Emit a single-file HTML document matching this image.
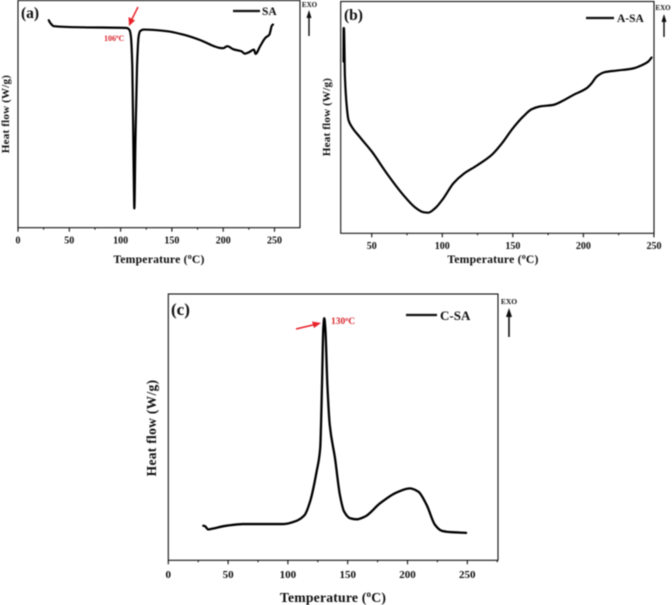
<!DOCTYPE html>
<html>
<head>
<meta charset="utf-8">
<style>
html,body{margin:0;padding:0;background:#fff;}
svg{display:block;}
text{font-family:"Liberation Serif",serif;font-weight:bold;fill:#111;}
</style>
</head>
<body>
<svg id="fig" width="672" height="605" viewBox="0 0 672 605" xmlns="http://www.w3.org/2000/svg">
<defs>
<filter id="soft" x="-5%" y="-5%" width="110%" height="110%"><feGaussianBlur stdDeviation="0.4"/></filter>
</defs>
<rect width="672" height="605" fill="#fff"/>
<g id="root" filter="url(#soft)">

<!-- Panel (a) annotations -->
<text x="21" y="18" font-size="15.5">(a)</text>
<text x="159" y="263" font-size="11.7" text-anchor="middle" letter-spacing="0.2">Temperature (<tspan font-size="8" dy="-4">o</tspan><tspan dy="4">C)</tspan></text>
<text transform="translate(9,114) rotate(-90)" font-size="11" text-anchor="middle" letter-spacing="0.2">Heat flow (W/g)</text>
<line x1="233" y1="11" x2="260" y2="11" stroke="#111" stroke-width="2.2"/>
<text x="262" y="15" font-size="11.5">SA</text>
<text x="309.5" y="7" font-size="7" text-anchor="middle">EXO</text>
<line x1="309" y1="36" x2="309" y2="15" stroke="#111" stroke-width="1.4"/>
<polygon points="309,10 306.5,18 311.5,18" fill="#111"/>
<line x1="138" y1="7" x2="131.5" y2="20" stroke="#e8222c" stroke-width="1.5"/>
<polygon points="129,26 128.5,17 135,20.5" fill="#e8222c"/>
<text x="104" y="41" font-size="8" style="fill:#d9262e">106<tspan font-size="5" dy="-3">o</tspan><tspan dy="3">C</tspan></text>

<!-- Panel (b) annotations -->
<text x="344" y="20" font-size="15.5">(b)</text>
<text x="493" y="263" font-size="11.7" text-anchor="middle" letter-spacing="0.2">Temperature (<tspan font-size="8" dy="-4">o</tspan><tspan dy="4">C)</tspan></text>
<text transform="translate(330,117) rotate(-90)" font-size="11" text-anchor="middle" letter-spacing="0.2">Heat flow (W/g)</text>
<line x1="586" y1="18" x2="614" y2="18" stroke="#111" stroke-width="2.2"/>
<text x="617" y="22" font-size="11.5">A-SA</text>
<text x="663" y="10" font-size="7" text-anchor="middle">EXO</text>
<line x1="664" y1="37" x2="664" y2="20" stroke="#111" stroke-width="1.4"/>
<polygon points="664,14 661.5,22 666.5,22" fill="#111"/>

<!-- Panel (c) annotations -->
<text x="171" y="315" font-size="17">(c)</text>
<text x="333" y="602" font-size="13.7" text-anchor="middle" letter-spacing="0.2">Temperature (<tspan font-size="9" dy="-5">o</tspan><tspan dy="5">C)</tspan></text>
<text transform="translate(156,428) rotate(-90)" font-size="13.5" text-anchor="middle" letter-spacing="0.3">Heat flow (W/g)</text>
<line x1="406" y1="315" x2="437" y2="315" stroke="#111" stroke-width="2.2"/>
<text x="440" y="320" font-size="13">C-SA</text>
<text x="509" y="304" font-size="7.5" text-anchor="middle">EXO</text>
<line x1="509" y1="337" x2="509" y2="314" stroke="#111" stroke-width="1.6"/>
<polygon points="509,308 506,317 512,317" fill="#111"/>
<line x1="296" y1="329" x2="315" y2="324.5" stroke="#e8222c" stroke-width="1.6"/>
<polygon points="321,323 312,321.5 314,328" fill="#e8222c"/>
<text x="331" y="324" font-size="9.5" style="fill:#d9262e">130<tspan font-size="6" dy="-3">o</tspan><tspan dy="3">C</tspan></text>
</g>
</svg>
<script>
const aTemps = [30,31.5,34.8,64,106,108.8,110,111.4,112.7,113.4,114.4,116,117.6,119,122.5,145,161,178,191,197,200,204,210,218,221,225,230,231.5,236,241,245,247.5,248.5];
const aFlow = [91.3,90.1,88.7,88.2,87.9,86.9,84.3,71,26.9,8.5,37.2,71,84.3,86.5,87.2,86.5,85,82.5,79.9,79.1,79,79.9,78.5,77.6,76.6,77.2,78.4,76.5,79.9,83.5,85,89,89.4];

const bTemps = [30,30.1,30.2,30.3,31,32.3,33.5,35.8,41.7,50,60.6,72.4,80.7,86.6,90,94.9,100.8,107.9,115,124.4,135,142,150,157.4,163.3,169,178.7,185.8,192.9,202.3,205.8,209.4,215,223.6,235,241,246,248.3];
const bFlow = [74.1,88.5,74.1,88.5,67.6,54.7,48.9,46,41.4,35.3,25.9,16.5,11.2,9.1,8.9,10.8,15.1,21.6,25.6,29.2,33.8,38.6,45.3,50.4,53.5,54.7,55.4,57.3,59.7,62.6,64.7,67.6,69.5,70.2,71.1,72.4,74.1,75.8];

const cTemps = [29.3,30.7,33.4,36,48.8,62.7,96,107,114,118.5,124,127,128.5,129.6,130.4,131.3,133,135,139.4,143.5,147,152,157.5,164.4,177,191,202,209,216,223,228.5,235.5,249];
const cFlow = [13,12.8,11.6,11.8,13,13.6,13.6,14.8,17,22,33.3,42.1,65.8,87.1,90.9,87.1,65.8,50.8,38.3,24.5,18.3,15.8,15.4,16.4,21.4,25.5,27,25.8,20.8,13.3,11.1,10.6,10.3];

const aTickLabels = [0,50,100,150,200,250];
const bTickLabels = [50,100,150,200,250];
const cTickLabels = [0,50,100,150,200,250];
const aMinorTicks = [25,75,125,175,225];
const bMinorTicks = [75,125,175,225];
const cMinorTicks = [25,75,125,175,225,275];

const NS = 'http://www.w3.org/2000/svg';
const root = document.getElementById('root');

/* Monotone cubic path through screen points: smooth, with no overshoot at the sharp peaks. */
function monotonePath(xs, ys) {
  const n = xs.length;
  const h = [], s = [], m = [];
  for (let i = 0; i < n - 1; i++) {
    h[i] = xs[i + 1] - xs[i];
    s[i] = (ys[i + 1] - ys[i]) / h[i];
  }
  m[0] = s[0];
  m[n - 1] = s[n - 2];
  for (let i = 1; i < n - 1; i++) {
    if (s[i - 1] * s[i] <= 0) {
      m[i] = 0;
    } else {
      const w1 = 2 * h[i] + h[i - 1];
      const w2 = h[i] + 2 * h[i - 1];
      m[i] = (w1 + w2) / (w1 / s[i - 1] + w2 / s[i]);
    }
  }
  let d = 'M' + xs[0].toFixed(2) + ' ' + ys[0].toFixed(2);
  for (let i = 0; i < n - 1; i++) {
    const c1x = xs[i] + h[i] / 3;
    const c1y = ys[i] + m[i] * h[i] / 3;
    const c2x = xs[i + 1] - h[i] / 3;
    const c2y = ys[i + 1] - m[i + 1] * h[i] / 3;
    d += ' C' + c1x.toFixed(2) + ' ' + c1y.toFixed(2) + ' ' + c2x.toFixed(2) + ' ' + c2y.toFixed(2) + ' ' + xs[i + 1].toFixed(2) + ' ' + ys[i + 1].toFixed(2);
  }
  return d;
}

function drawPanel(id, temps, flow, majors, minors, g) {
  const xScale = t => g.x0 + (t - g.tMin) * g.pxPerDeg;
  const yScale = v => g.bottom - (v / 100) * (g.bottom - g.top);

  const box = document.createElementNS(NS, 'rect');
  
  
  box.setAttribute('x', g.x0);
  box.setAttribute('y', g.top);
  box.setAttribute('width', g.x1 - g.x0);
  box.setAttribute('height', g.bottom - g.top);
  box.setAttribute('fill', 'none');
  box.setAttribute('stroke', '#111');
  box.setAttribute('stroke-width', g.frame);
  root.appendChild(box);

  majors.forEach(t => {
    const tick = document.createElementNS(NS, 'line');
    
    
    tick.setAttribute('x1', xScale(t));
    tick.setAttribute('x2', xScale(t));
    tick.setAttribute('y1', g.bottom);
    tick.setAttribute('y2', g.bottom + 4);
    tick.setAttribute('stroke', '#111');
    tick.setAttribute('stroke-width', 1.1);
    root.appendChild(tick);

    const label = document.createElementNS(NS, 'text');
    
    
    label.setAttribute('x', xScale(t));
    label.setAttribute('y', g.labelY);
    label.setAttribute('font-size', g.tickFont);
    label.setAttribute('text-anchor', 'middle');
    label.textContent = t;
    root.appendChild(label);
  });

  minors.forEach(t => {
    const tick = document.createElementNS(NS, 'line');
    
    
    tick.setAttribute('x1', xScale(t));
    tick.setAttribute('x2', xScale(t));
    tick.setAttribute('y1', g.bottom);
    tick.setAttribute('y2', g.bottom + 2);
    tick.setAttribute('stroke', '#111');
    tick.setAttribute('stroke-width', 1);
    root.appendChild(tick);
  });

  const curve = document.createElementNS(NS, 'path');
  
  
  curve.setAttribute('d', monotonePath(temps.map(xScale), flow.map(yScale)));
  curve.setAttribute('fill', 'none');
  curve.setAttribute('stroke', '#000');
  curve.setAttribute('stroke-width', g.line);
  curve.setAttribute('stroke-linejoin', 'round');
  curve.setAttribute('stroke-linecap', 'round');
  root.appendChild(curve);
}

drawPanel('panel-a', aTemps, aFlow, aTickLabels, aMinorTicks,
  {x0:18, x1:300, tMin:0, pxPerDeg:1.026, top:0.5, bottom:227.7, labelY:243.5, tickFont:10, frame:1.1, line:2.2});
drawPanel('panel-b', bTemps, bFlow, bTickLabels, bMinorTicks,
  {x0:340.7, x1:654, tMin:28, pxPerDeg:1.411, top:1.5, bottom:233.3, labelY:249, tickFont:10, frame:1.1, line:2.2});
drawPanel('panel-c', cTemps, cFlow, cTickLabels, cMinorTicks,
  {x0:168.3, x1:498, tMin:0, pxPerDeg:1.196, top:294, bottom:560.3, labelY:578, tickFont:11, frame:1.1, line:2.3});
</script>
</body>
</html>
